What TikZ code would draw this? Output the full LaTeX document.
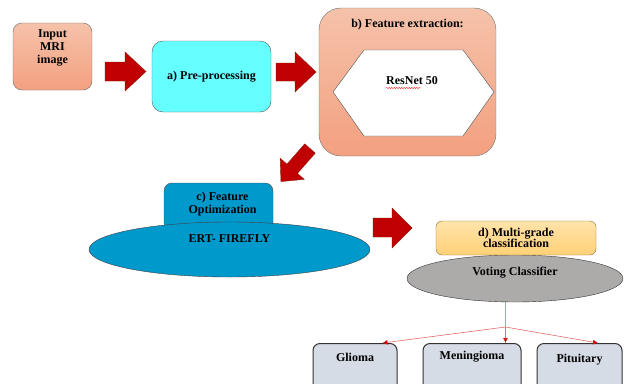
\documentclass[tikz,border=0pt]{standalone}
\usepackage{fontspec}
\setmainfont{Liberation Serif}
\usetikzlibrary{shapes.geometric,arrows.meta,calc,decorations.pathmorphing}
\definecolor{salmonT}{HTML}{F5C2AA}
\definecolor{salmonB}{HTML}{F3A080}
\definecolor{cyanF}{HTML}{66FFFF}
\definecolor{blueF}{HTML}{0099CC}
\definecolor{arrowRed}{HTML}{C00000}
\definecolor{arrowEdge}{HTML}{8A1A0A}
\definecolor{goldT}{HTML}{FFE4AA}
\definecolor{goldB}{HTML}{FFD078}
\definecolor{goldEdge}{HTML}{8C6A3A}
\definecolor{grayF}{HTML}{ADAAAA}
\definecolor{resF}{HTML}{D6DCE5}
\definecolor{linkRed}{HTML}{E36C6C}
\definecolor{tipRed}{HTML}{D01010}
\definecolor{linkBlue}{HTML}{8EA9DB}
\begin{document}
\begin{tikzpicture}[x=1pt,y=-1pt,
  font=\bfseries\fontsize{12}{13}\selectfont,
  lbl/.style={inner sep=0pt, align=center},
  boxstyle/.style={draw, rectangle, inner sep=0pt, align=center},
  ellstyle/.style={draw, ellipse, inner sep=0pt},
  resbox/.style={boxstyle, rounded corners=7pt, draw=black!80, line width=1pt, fill=resF, minimum height=52pt, anchor=north},
  blockarrow/.style={fill=arrowRed, draw=arrowEdge, line width=0.4pt, line join=miter},
  redlink/.style={draw=linkRed, line width=0.6pt, -{Latex[length=5pt,width=5pt,color=tipRed]}}
]
\useasboundingbox (0,0) rectangle (629,383);
\clip (0,0) rectangle (629,383);

% Input
\node[boxstyle, rounded corners=9pt, draw=black!60, top color=salmonT, bottom color=salmonB,
      minimum width=79pt, minimum height=67pt] (input) at (52.5,56.5) {};
\node[lbl] (inputlbl) at (52.5,48) {Input\\MRI\\image};

% Pre-processing
\node[boxstyle, rounded corners=11pt, draw=black!65, fill=cyanF,
      minimum width=119pt, minimum height=71pt] (pre) at (211.5,76.5) {a) Pre-processing};

% Feature extraction
\node[boxstyle, rounded corners=22pt, draw=black!55, top color=salmonT, bottom color=salmonB,
      minimum width=177pt, minimum height=148pt] (fe) at (407.5,82) {};
\node[lbl] (fetitle) at (407.5,25) {b) Feature extraction:};
\draw[draw=black!70, fill=white] (333,92) -- (364,50) -- (463,50) -- (494,92) -- (463,136) -- (364,136) -- cycle;
\node[lbl] (resnet) at (412,81) {ResNet 50};
\draw[red, line width=0.4pt, decorate, decoration={snake, amplitude=0.5pt, segment length=2.5pt}]
  (386,88) -- (421,88);

% Feature optimization
\node[boxstyle, rounded corners=8pt, draw=black!70, fill=blueF,
      minimum width=109pt, minimum height=47pt] (fopt) at (218.5,206.5) {};
\node[lbl] (foptlbl) at (222.5,204.5) {c) Feature\\Optimization};
\node[ellstyle, draw=black!75, fill=blueF, minimum width=281pt, minimum height=55pt] (ert) at (229.5,249.5) {};
\node[lbl] (ertlbl) at (229.5,238.5) {ERT- FIREFLY};

% Multi-grade classification
\node[ellstyle, draw=black!80, fill=grayF, minimum width=216pt, minimum height=47pt] (vote) at (515,278.5) {};
\node[lbl] (votelbl) at (515,273) {Voting Classifier};
\node[boxstyle, rounded corners=6pt, draw=goldEdge, top color=goldT, bottom color=goldB,
      minimum width=160pt, minimum height=34pt, font=\bfseries\fontsize{12}{11.5}\selectfont] (mg) at (516,238) {d) Multi-grade\\classification};

% Results
\node[resbox, minimum width=84pt] (glioma) at (355,343) {};
\node[lbl] (gliomalbl) at (355,357) {Glioma};
\node[resbox, minimum width=98pt] (mening) at (472,343) {};
\node[lbl] (meninglbl) at (472,357) {Meningioma};
\node[resbox, minimum width=85pt] (pit) at (579.5,343) {};
\node[lbl] (pitlbl) at (579.5,360) {Pituitary};

% Connectors
\coordinate (junc) at (505.5,327);
\draw[linkBlue, line width=0.6pt] (vote.south -| junc) -- (junc);
\draw[redlink] (junc) -- ($(glioma.north east)+(-15,0)$);
\draw[redlink] (junc) -- (junc |- mening.north);
\draw[redlink] (junc) -- ($(pit.north)+(18.5,0)$);

% Block arrows
\draw[blockarrow] (105,62) -- (125,62) -- (125,52) -- (146,71.5) -- (125,91) -- (125,81) -- (105,81) -- cycle;
\draw[blockarrow] (276,63) -- (295,63) -- (295,52) -- (316,72) -- (295,92) -- (295,81) -- (276,81) -- cycle;
\draw[blockarrow] (373,218) -- (392,218) -- (392,208) -- (412,228) -- (392,248) -- (392,237) -- (373,237) -- cycle;
\begin{scope}[shift={(310,148.5)}, rotate=228.7]
\draw[blockarrow] (0,-7) -- (27,-7) -- (27,-16) -- (44,0) -- (27,16) -- (27,7) -- (0,7) -- cycle;
\end{scope}
\end{tikzpicture}
\end{document}
